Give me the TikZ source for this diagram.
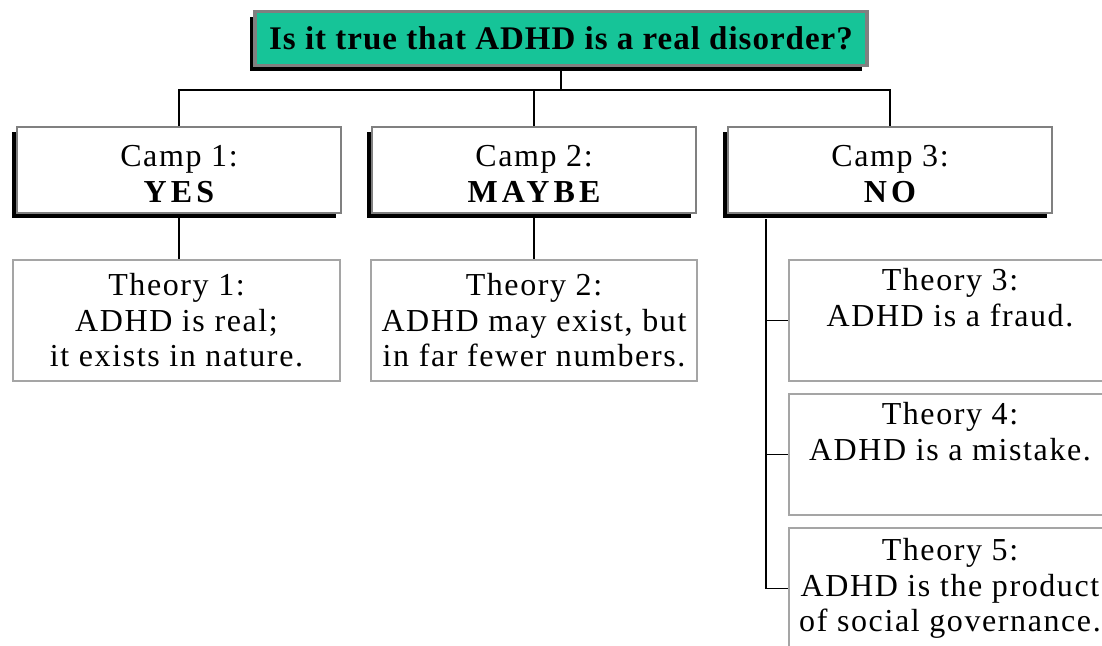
\documentclass[tikz,border=0pt]{standalone}
\usepackage{fontspec}
\setmainfont{Liberation Serif}
\newfontfamily\bodyfont[LetterSpace=5]{Liberation Serif}
\newfontfamily\boldfont[LetterSpace=13]{Liberation Serif}
\newfontfamily\titlefont[LetterSpace=3]{Liberation Serif}
\usetikzlibrary{shadows}
\definecolor{titlegreen}{RGB}{22,196,152}
\definecolor{framegray}{RGB}{128,128,128}
\definecolor{boxgray}{RGB}{165,165,165}
\tikzset{
  titlebox/.style={draw=framegray, line width=3.5pt, fill=titlegreen,
    minimum width=612pt, minimum height=54pt, inner sep=0pt,
    drop shadow={shadow xshift=-5pt, shadow yshift=-5pt, fill=black, opacity=1},
    font=\titlefont\fontsize{33}{38}\selectfont\bfseries},
  campbox/.style={draw=framegray, line width=2pt, fill=white,
    minimum width=324pt, minimum height=86pt, inner sep=0pt, align=center,
    drop shadow={shadow xshift=-5pt, shadow yshift=-5pt, fill=black, opacity=1},
    font=\bodyfont\fontsize{32}{36}\selectfont},
  theorybox/.style={draw=boxgray, line width=1.5pt, fill=white,
    minimum height=121pt, inner sep=0pt, align=center,
    font=\bodyfont\fontsize{32}{35.5}\selectfont},
  conn/.style={draw=black, line width=1.5pt}
}
\begin{document}
\begin{tikzpicture}[x=1pt,y=-1pt]
\useasboundingbox (0,0) rectangle (1102,645);
\clip (0,0) rectangle (1102,645);
% title
\node[titlebox] (title) at (561,38.5) {Is it true that ADHD is a real disorder?};
% camps
\node[campbox] (camp1) at (179,170) {\rule{0pt}{30pt}Camp 1:\\{\boldfont\bfseries YES}};
\node[campbox] (camp2) at (534,170) {\rule{0pt}{30pt}Camp 2:\\{\boldfont\bfseries MAYBE}};
\node[campbox] (camp3) at (890,170) {\rule{0pt}{30pt}Camp 3:\\{\boldfont\bfseries NO}};
% theories
\node[theorybox, minimum width=327pt] (th1) at (176.5,320.5) {Theory 1:\\ADHD is real;\\it exists in nature.};
\node[theorybox, minimum width=326pt] (th2) at (534,320.5) {Theory 2:\\ADHD may exist, but\\in far fewer numbers.};
\node[theorybox, minimum width=322pt] (th3) at (950,320.5) {Theory 3:\\ADHD is a fraud.\\\strut};
\node[theorybox, minimum width=322pt] (th4) at (950,454.5) {Theory 4:\\ADHD is a mistake.\\\strut};
\node[theorybox, minimum width=322pt] (th5) at (950,588.5) {Theory 5:\\ADHD is the product\\of social governance.};
% connectors
\coordinate (bus) at (0,90);
\draw[conn] (title.south) -- (title.south |- bus);
\draw[conn] (camp1.north) |- (camp3.north |- bus) -- (camp3.north);
\draw[conn] (camp2.north) -- (camp2.north |- bus);
\draw[conn] (camp1.south) -- (camp1.south |- th1.north);
\draw[conn] (camp2.south) -- (camp2.south |- th2.north);
\coordinate (trunk) at (766,219);
\draw[conn] (trunk) |- (th5.west);
\draw[conn] (trunk |- th3.west) -- (th3.west);
\draw[conn] (trunk |- th4.west) -- (th4.west);
\end{tikzpicture}
\end{document}
